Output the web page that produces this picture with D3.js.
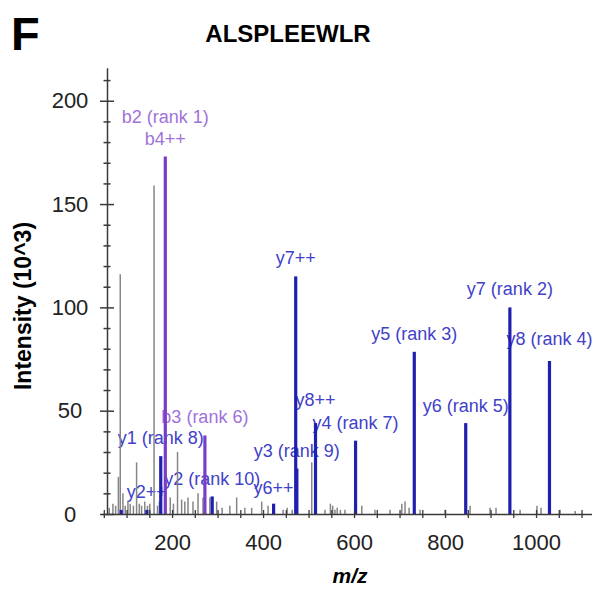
<!DOCTYPE html>
<html>
<head>
<meta charset="utf-8">
<script src="https://cdn.jsdelivr.net/npm/d3@7/dist/d3.min.js"></script>
<style>
  body { margin: 0; background: #fff; }
  svg text { font-family: "Liberation Sans", Arial, sans-serif; }
</style>
</head>
<body>
<svg id="chart" width="592" height="590"></svg>
<script>
// MS/MS spectrum of ALSPLEEWLR: annotated b/y fragment ions plus unassigned peaks.
const peptide = "ALSPLEEWLR";

// Annotated fragments (m/z, intensity in 10^3 counts)
const ionSeries    = ["b", "b", "y", "y", "y", "y", "y", "y", "y", "y", "y", "y", "y", "y", "y"];
const ionMz        = [185.13, 272.16, 175.12, 144.61, 288.20, 423.23, 471.76, 474.28, 515.27, 603.32, 732.37, 845.45, 942.50, 1029.54, 88.06];
const ionIntensity = [173, 38, 28, 2, 8.5, 5, 115, 22, 44, 35.5, 78.5, 44, 100, 74, 2];
const ionLabels    = [["b2 (rank 1)", "b4++"], ["b3 (rank 6)"], ["y1 (rank 8)"], ["y2++"], ["y2 (rank 10)"],
                      ["y6++"], ["y7++"], ["y3 (rank 9)"], ["y8++"], ["y4 (rank 7)"], ["y5 (rank 3)"],
                      ["y6 (rank 5)"], ["y7 (rank 2)"], ["y8 (rank 4)"], []];

// Unassigned peaks
const noiseMz = [62, 70, 76, 82, 86.1, 92, 97, 103, 108, 115, 122, 128, 133, 140, 146, 151, 160.4, 168, 172, 196, 203, 212,
                 221, 228, 235, 246, 257, 268, 283, 298, 310, 327, 342, 360, 375, 397, 411, 444, 453, 464,
                 507, 536, 548, 553, 558, 563, 570, 580, 617, 646, 679, 705, 712, 721, 745, 800, 855, 899, 912,
                 965, 1002, 1011, 1053, 1086];
const noiseIntensity = [3, 5, 4, 18, 116, 10, 4, 6, 5, 4, 25, 5, 4, 6, 4, 5, 159, 4, 6, 8, 5, 30,
                        7, 6, 8, 6, 10, 8, 8, 6, 3, 4, 8, 3, 3, 6, 4, 2, 3, 2,
                        25, 2, 5, 4, 2, 3, 2, 2, 4, 2, 2, 5, 6, 3, 2, 2, 4, 3, 3,
                        2, 4, 3, 2, 1.5];

// Axis ticks
const yTickValues = d3.range(0, 211, 10);
const yTickLabels = [0, 50, 100, 150, 200];
const xTickValues = d3.range(50, 1101, 50);
const xTickLabels = [200, 400, 600, 800, 1000];

// Extra lift (px) for labels that were shifted to clear neighbours
const labelLift = { "y8++": 5, "y8 (rank 4)": 4, "y6 (rank 5)": -1, "y2 (rank 10)": -1, "y6++": -2 };

const colors = {
  bBar: "#7b3cc6", bText: "#9e72da",
  yBar: "#1f1fb0", yText: "#4141c9",
  noise: "#868686", axis: "#3a3a3a"
};

const svg = d3.select("#chart");

const x = d3.scaleLinear().domain([46, 1123]).range([102, 592]);
const y = d3.scaleLinear().domain([0, 216]).range([514, 67.7]);
const axisX = 107;

// Panel letter and title
svg.append("text").attr("x", 11).attr("y", 50)
  .style("font-size", "47px").style("font-weight", "bold").text("F");
svg.append("text").attr("x", 288).attr("y", 42).attr("text-anchor", "middle")
  .style("font-size", "24px").style("font-weight", "bold").text(peptide);

// Axis titles
svg.append("text")
  .attr("transform", "translate(31,306) rotate(-90)")
  .attr("text-anchor", "middle")
  .style("font-size", "23px").style("font-weight", "bold")
  .text("Intensity (10^3)");
svg.append("text").attr("x", 350).attr("y", 583).attr("text-anchor", "middle")
  .style("font-size", "21px").style("font-weight", "bold").style("font-style", "italic")
  .text("m/z");

const ions = ionMz.map((mz, i) => ({
  mz, value: ionIntensity[i], series: ionSeries[i], labels: ionLabels[i]
}));
const noise = noiseMz.map((mz, i) => ({ mz, value: noiseIntensity[i] }));

// Peak labels (drawn beneath the sticks, which overlap them)
const labelGroup = svg.append("g");
ions.forEach(d => {
  const n = d.labels.length;
  d.labels.forEach((t, k) => {
    const lift = labelLift[t] || 0;
    labelGroup.append("text")
      .attr("x", x(d.mz))
      .attr("y", y(d.value) - 12 - lift - (n - 1 - k) * 22)
      .attr("text-anchor", "middle")
      .style("font-size", "18px")
      .attr("fill", d.series === "b" ? colors.bText : colors.yText)
      .text(t);
  });
});

// Unassigned peaks
svg.append("g").selectAll("line").data(noise).join("line")
  .attr("x1", d => x(d.mz)).attr("x2", d => x(d.mz))
  .attr("y1", y(0)).attr("y2", d => y(d.value))
  .attr("stroke", colors.noise).attr("stroke-width", 1.5);

// Assigned fragment peaks
svg.append("g").selectAll("line").data(ions).join("line")
  .attr("x1", d => x(d.mz)).attr("x2", d => x(d.mz))
  .attr("y1", y(0)).attr("y2", d => y(d.value))
  .attr("stroke", d => d.series === "b" ? colors.bBar : colors.yBar)
  .attr("stroke-width", 3.2);

// Y axis with ticks crossing the axis line
const gy = svg.append("g").attr("transform", `translate(${axisX},0)`)
  .call(d3.axisLeft(y).tickValues(yTickValues)
    .tickFormat(d => yTickLabels.includes(d) ? d : "").tickSizeOuter(0));
gy.select(".domain").attr("stroke", colors.axis).attr("stroke-width", 1.5);
gy.selectAll(".tick line")
  .attr("x1", d => yTickLabels.includes(d) ? 7 : 3.5)
  .attr("x2", d => yTickLabels.includes(d) ? -7 : -3.5)
  .attr("stroke", colors.axis).attr("stroke-width", 1.5);
gy.selectAll(".tick text").attr("x", -37).attr("text-anchor", "middle")
  .style("font-size", "22px").style("font-family", "'Liberation Sans', Arial, sans-serif")
  .attr("fill", "#222");

// X axis
const gx = svg.append("g").attr("transform", `translate(0,${y(0)})`)
  .call(d3.axisBottom(x).tickValues(xTickValues)
    .tickFormat(d => xTickLabels.includes(d) ? d : "").tickSizeOuter(0));
gx.select(".domain").attr("stroke", colors.axis).attr("stroke-width", 1.5);
gx.selectAll(".tick line").attr("y1", -4).attr("y2", 4)
  .attr("stroke", colors.axis).attr("stroke-width", 1.3);
gx.selectAll(".tick text").attr("y", 20)
  .style("font-size", "22px").style("font-family", "'Liberation Sans', Arial, sans-serif")
  .attr("fill", "#222");
</script>
</body>
</html>
